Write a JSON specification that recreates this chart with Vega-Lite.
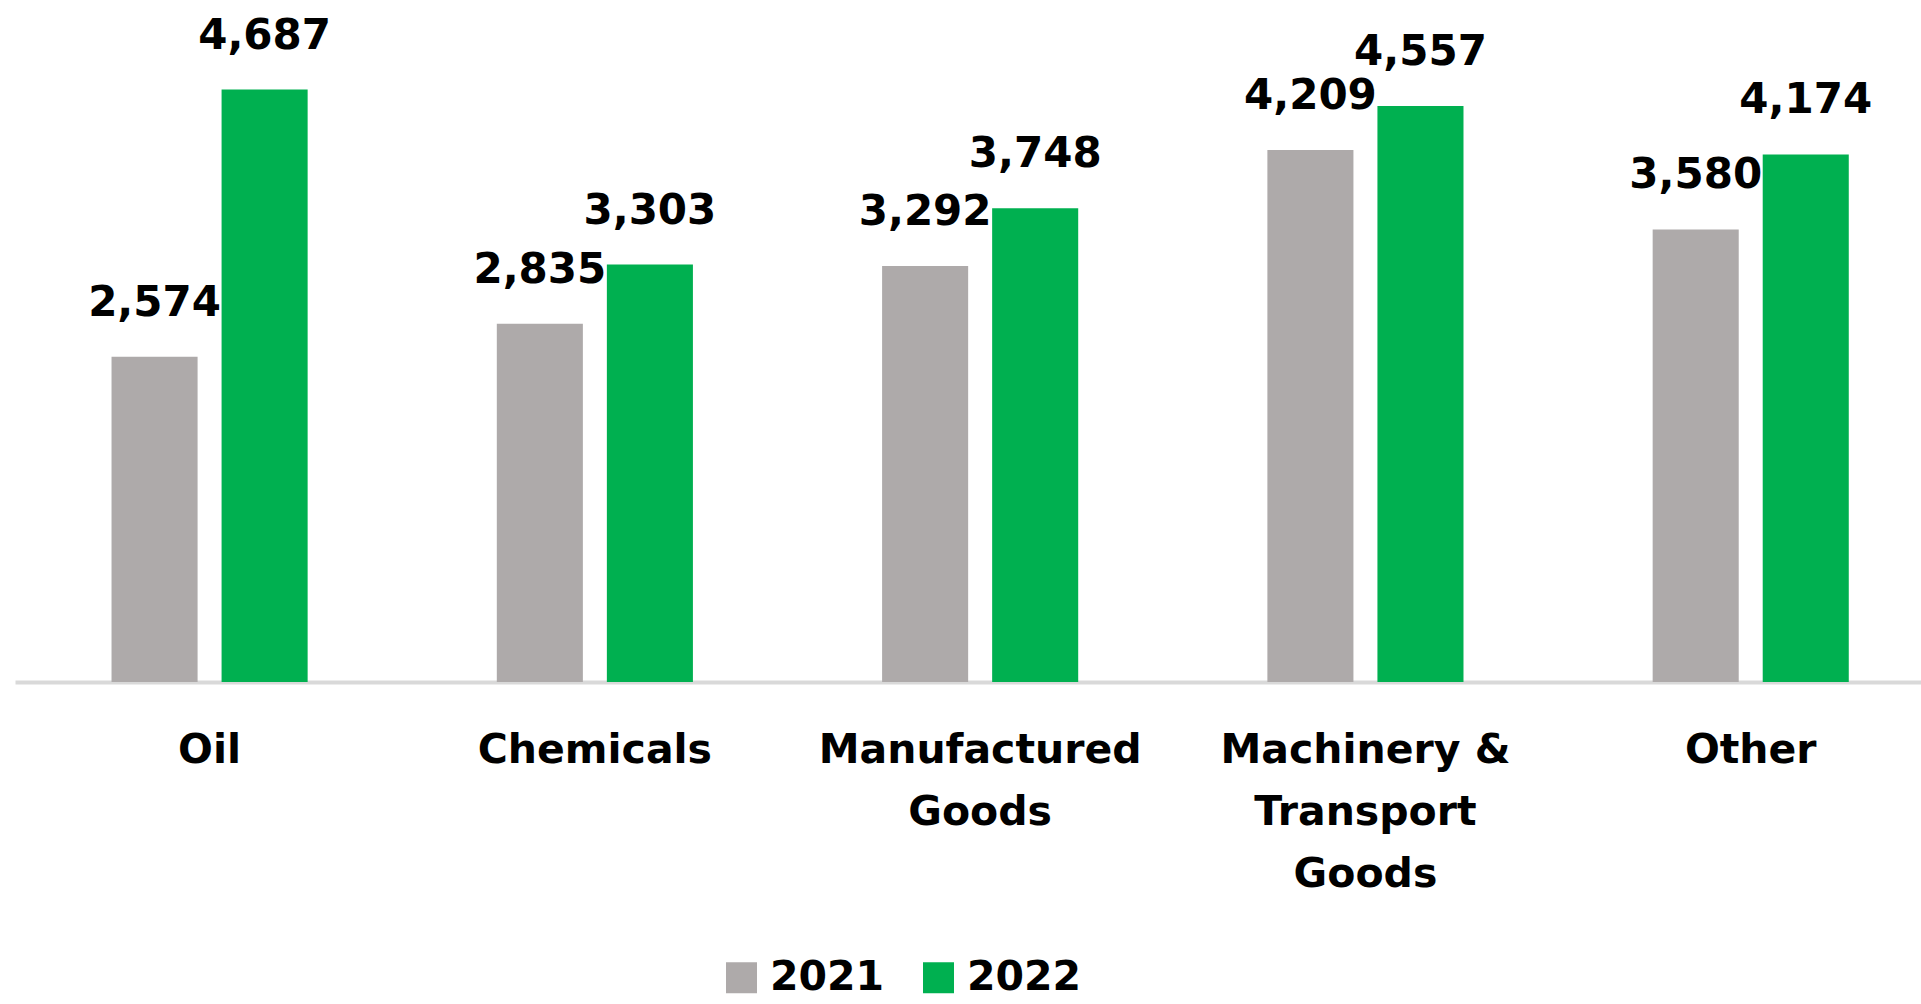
{
  "$schema": "https://vega.github.io/schema/vega-lite/v6.json",
  "width": 1906,
  "height": 632,
  "autosize": {"type": "none"},
  "padding": {"left": 15, "top": 50, "right": 0, "bottom": 322},
  "background": "white",
  "config": {
    "view": {"stroke": null},
    "font": "DejaVu Sans"
  },
  "data": {
    "values": [
      {"category": "Oil", "year": "2021", "value": 2574},
      {"category": "Oil", "year": "2022", "value": 4687},
      {"category": "Chemicals", "year": "2021", "value": 2835},
      {"category": "Chemicals", "year": "2022", "value": 3303},
      {"category": "Manufactured|Goods", "year": "2021", "value": 3292},
      {"category": "Manufactured|Goods", "year": "2022", "value": 3748},
      {"category": "Machinery &|Transport|Goods", "year": "2021", "value": 4209},
      {"category": "Machinery &|Transport|Goods", "year": "2022", "value": 4557},
      {"category": "Other", "year": "2021", "value": 3580},
      {"category": "Other", "year": "2022", "value": 4174}
    ]
  },
  "encoding": {
    "x": {
      "field": "category",
      "type": "nominal",
      "sort": null,
      "scale": {"paddingInner": 0.491, "paddingOuter": 0.219, "align": 0.572, "round": false},
      "axis": {
        "title": null,
        "labelAngle": 0,
        "ticks": false,
        "labelPadding": 48,
        "labelFont": "DejaVu Sans",
        "labelFontWeight": "bold",
        "labelFontSize": 41,
        "labelColor": "#000000",
        "labelLineHeight": 62,
        "labelLimit": 0,
        "labelExpr": "split(datum.label, '|')",
        "domainColor": "#d9d9d9",
        "domainWidth": 4,
        "grid": false
      }
    },
    "xOffset": {
      "field": "year",
      "type": "nominal",
      "scale": {"paddingInner": 0.218, "paddingOuter": 0}
    },
    "y": {
      "field": "value",
      "type": "quantitative",
      "scale": {"domain": [0, 5000], "nice": false},
      "axis": null
    }
  },
  "layer": [
    {
      "mark": {"type": "bar"},
      "encoding": {
        "color": {
          "field": "year",
          "type": "nominal",
          "scale": {"domain": ["2021", "2022"], "range": ["#AEAAAA", "#00B050"]},
          "legend": {
            "title": null,
            "orient": "none",
            "direction": "horizontal",
            "legendX": 706,
            "legendY": 907,
            "symbolType": "square",
            "symbolSize": 961,
            "symbolStrokeWidth": 0,
            "labelFont": "DejaVu Sans",
            "labelFontWeight": "bold",
            "labelFontSize": 41,
            "labelColor": "#000000",
            "labelOffset": 8,
            "columnPadding": 33,
            "padding": 0
          }
        }
      }
    },
    {
      "mark": {
        "type": "text",
        "baseline": "middle",
        "align": "center",
        "dy": -54,
        "font": "DejaVu Sans",
        "fontWeight": "bold",
        "fontSize": 42,
        "color": "#000000"
      },
      "encoding": {
        "text": {"field": "value", "type": "quantitative", "format": ",d"}
      }
    }
  ]
}
